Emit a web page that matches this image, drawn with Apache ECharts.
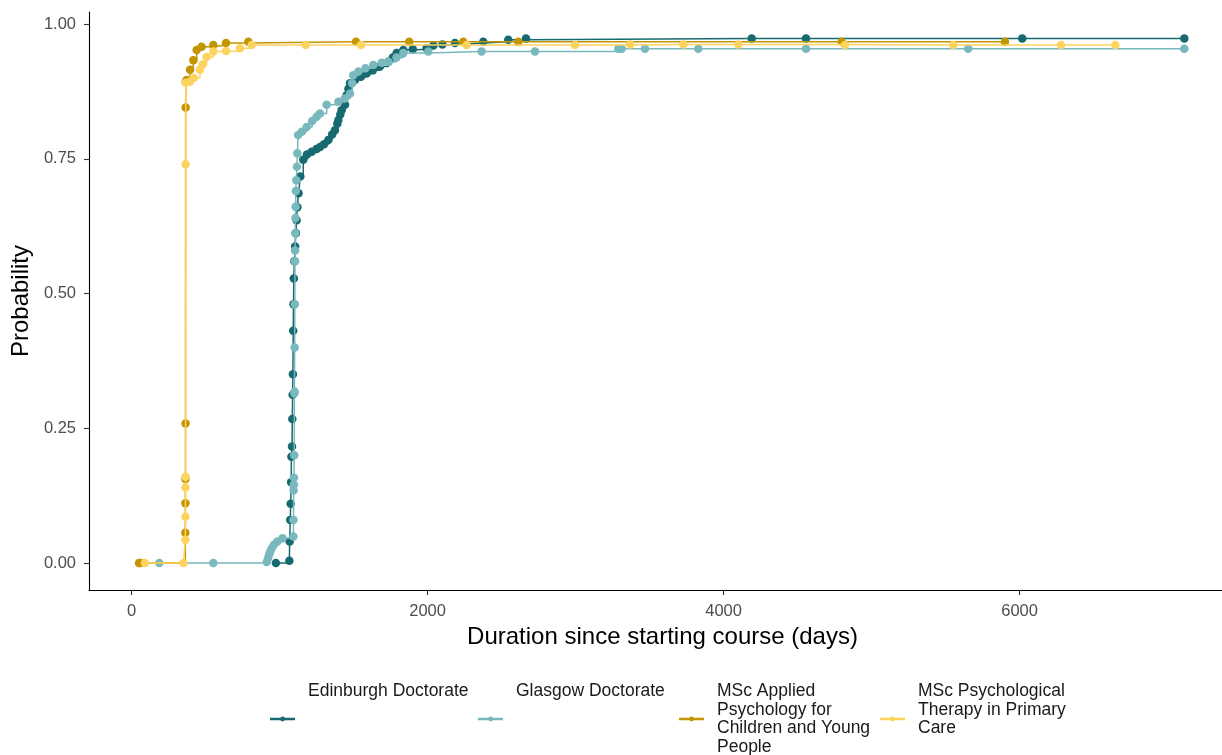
<!DOCTYPE html>
<html>
<head>
<meta charset="utf-8">
<script src="https://cdn.jsdelivr.net/npm/echarts@6/dist/echarts.min.js"></script>
<style>
html,body{margin:0;padding:0;background:#fff;}
#chart{width:1222px;height:755px;}
</style>
</head>
<body>
<div id="chart"></div>
<script>
// ---- data (days since starting course, cumulative probability) ----
const seriesNames = ['Edinburgh Doctorate', 'Glasgow Doctorate',
  'MSc Applied Psychology for Children and Young People',
  'MSc Psychological Therapy in Primary Care'];
const legendLabels = ['Edinburgh Doctorate\n\n\n',
  'Glasgow Doctorate\n\n\n',
  'MSc Applied\nPsychology for\nChildren and Young\nPeople',
  'MSc Psychological\nTherapy in Primary\nCare\n'];
const seriesColors = ['#176A6F', '#79B8BD', '#C39500', '#FDD35F'];

const edinburgh = [[975,0],[1066,0.004],[1068,0.04],[1072,0.08],[1075,0.11],[1078,0.15],
  [1080,0.197],[1084,0.216],[1086,0.267],[1088,0.312],[1090,0.35],[1092,0.431],[1094,0.48],
  [1096,0.528],[1100,0.56],[1105,0.587],[1110,0.612],[1115,0.636],[1120,0.66],[1128,0.686],
  [1140,0.717],[1160,0.748],[1185,0.758],[1217,0.763],[1250,0.768],[1273,0.772],[1300,0.777],
  [1329,0.785],[1355,0.795],[1374,0.803],[1390,0.815],[1397,0.822],[1410,0.832],[1419,0.84],
  [1442,0.85],[1453,0.868],[1465,0.88],[1476,0.89],[1509,0.896],[1550,0.902],[1588,0.908],
  [1630,0.914],[1678,0.921],[1735,0.93],[1765,0.938],[1791,0.946],[1836,0.952],[1900,0.953],
  [1993,0.955],[2039,0.96],[2100,0.962],[2185,0.965],[2376,0.967],[2545,0.971],[2665,0.973],
  [4190,0.973],[4557,0.973],[6018,0.973],[7113,0.973]];

const glasgow = [[187,0],[552,0],[913,0.002],[922,0.009],[930,0.016],[938,0.022],[948,0.028],
  [962,0.034],[985,0.04],[1020,0.046],[1093,0.049],[1094,0.08],[1095,0.135],[1096,0.145],
  [1097,0.158],[1099,0.2],[1100,0.315],[1101,0.318],[1102,0.4],[1103,0.48],[1104,0.56],
  [1105,0.58],[1106,0.612],[1107,0.64],[1108,0.661],[1110,0.69],[1113,0.71],[1117,0.735],
  [1120,0.76],[1125,0.794],[1150,0.8],[1183,0.809],[1220,0.82],[1250,0.828],[1273,0.834],
  [1318,0.85],[1397,0.856],[1440,0.862],[1476,0.871],[1490,0.89],[1498,0.905],[1532,0.912],
  [1580,0.918],[1633,0.924],[1690,0.928],[1735,0.93],[1790,0.938],[1836,0.946],[2005,0.949],
  [2365,0.949],[2726,0.949],[3289,0.954],[3311,0.954],[3469,0.954],[3829,0.954],[4557,0.954],
  [5653,0.954],[7113,0.954]];

const mscApplied = [[50,0],[60,0],[363,0.056],[363.5,0.111],[364,0.156],[364.5,0.259],
  [365,0.845],[366,0.893],[372,0.896],[395,0.915],[417,0.933],[440,0.952],[473,0.958],
  [552,0.961],[638,0.965],[789,0.967],[1516,0.967],[1876,0.967],[2241,0.967],[2613,0.967],
  [4798,0.967],[5901,0.967]];

const mscPsych = [[90,0],[350,0],[363,0.043],[363.5,0.086],[364,0.14],[364.5,0.16],
  [365,0.74],[366,0.891],[394,0.893],[420,0.9],[462,0.915],[480,0.925],[507,0.939],
  [552,0.949],[638,0.95],[732,0.955],[811,0.961],[1176,0.961],[1550,0.961],[2264,0.961],
  [2996,0.961],[3368,0.962],[3728,0.962],[4100,0.962],[4820,0.961],[5552,0.961],
  [6280,0.961],[6647,0.961]];

const xTicks = [0, 2000, 4000, 6000];
const yTicks = [0, 0.25, 0.5, 0.75, 1.0];
const allData = [edinburgh, glasgow, mscApplied, mscPsych];

// ---- chart ----
const chart = echarts.init(document.getElementById('chart'), null, {renderer: 'canvas'});
const FONT = 'Liberation Sans, Arial, sans-serif';
const legendLefts = [270, 478, 679, 880];
const iconPath = 'path://M0,1.6H25V4H0Z M10.2,2.8a2.4,2.4 0 1,1 4.8,0a2.4,2.4 0 1,1 -4.8,0Z';

const option = {
  animation: false,
  backgroundColor: '#ffffff',
  grid: {left: 89, top: 12, right: 0, bottom: 165, containLabel: false},
  xAxis: {
    type: 'value', min: -287.8, max: 7367.6,
    axisLine: {onZero: false, lineStyle: {color: '#000', width: 1.1}},
    axisTick: {show: true, length: 5, customValues: xTicks, lineStyle: {color: '#333', width: 1.1}},
    axisLabel: {customValues: xTicks, color: '#4D4D4D', fontSize: 16.5, fontFamily: FONT, margin: 13,
      formatter: v => String(v)},
    splitLine: {show: false},
    name: 'Duration since starting course (days)', nameLocation: 'middle', nameGap: 33,
    nameTextStyle: {fontSize: 24, color: '#000', fontFamily: FONT, padding: [0, 0, 0, 14]}
  },
  yAxis: {
    type: 'value', min: -0.0501, max: 1.0223,
    axisLine: {show: true, onZero: false, lineStyle: {color: '#000', width: 1.1}},
    axisTick: {show: true, length: 5, customValues: yTicks, lineStyle: {color: '#333', width: 1.1}},
    axisLabel: {customValues: yTicks, color: '#4D4D4D', fontSize: 16.5, fontFamily: FONT, margin: 13,
      formatter: v => v.toFixed(2)},
    splitLine: {show: false},
    name: 'Probability', nameLocation: 'middle', nameGap: 52,
    nameTextStyle: {fontSize: 24, color: '#000', fontFamily: FONT}
  },
  legend: seriesNames.map((n, i) => ({
    data: [n], left: legendLefts[i], top: 682, orient: 'horizontal', padding: 0,
    itemWidth: 25, itemHeight: 5, icon: iconPath,
    selectedMode: false,
    formatter: () => legendLabels[i],
    textStyle: {fontSize: 17.5, lineHeight: 18.5, color: '#1a1a1a', fontFamily: FONT, padding: [0, 0, 0, 8]}
  })),
  series: seriesNames.map((n, i) => ({
    name: n, type: 'line', step: 'end', data: allData[i],
    symbol: 'circle', symbolSize: 8.5, showSymbol: true,
    lineStyle: {color: seriesColors[i], width: 1.5},
    itemStyle: {color: seriesColors[i]},
    emphasis: {disabled: true}, z: 2 + i
  }))
};
chart.setOption(option);
</script>
</body>
</html>
